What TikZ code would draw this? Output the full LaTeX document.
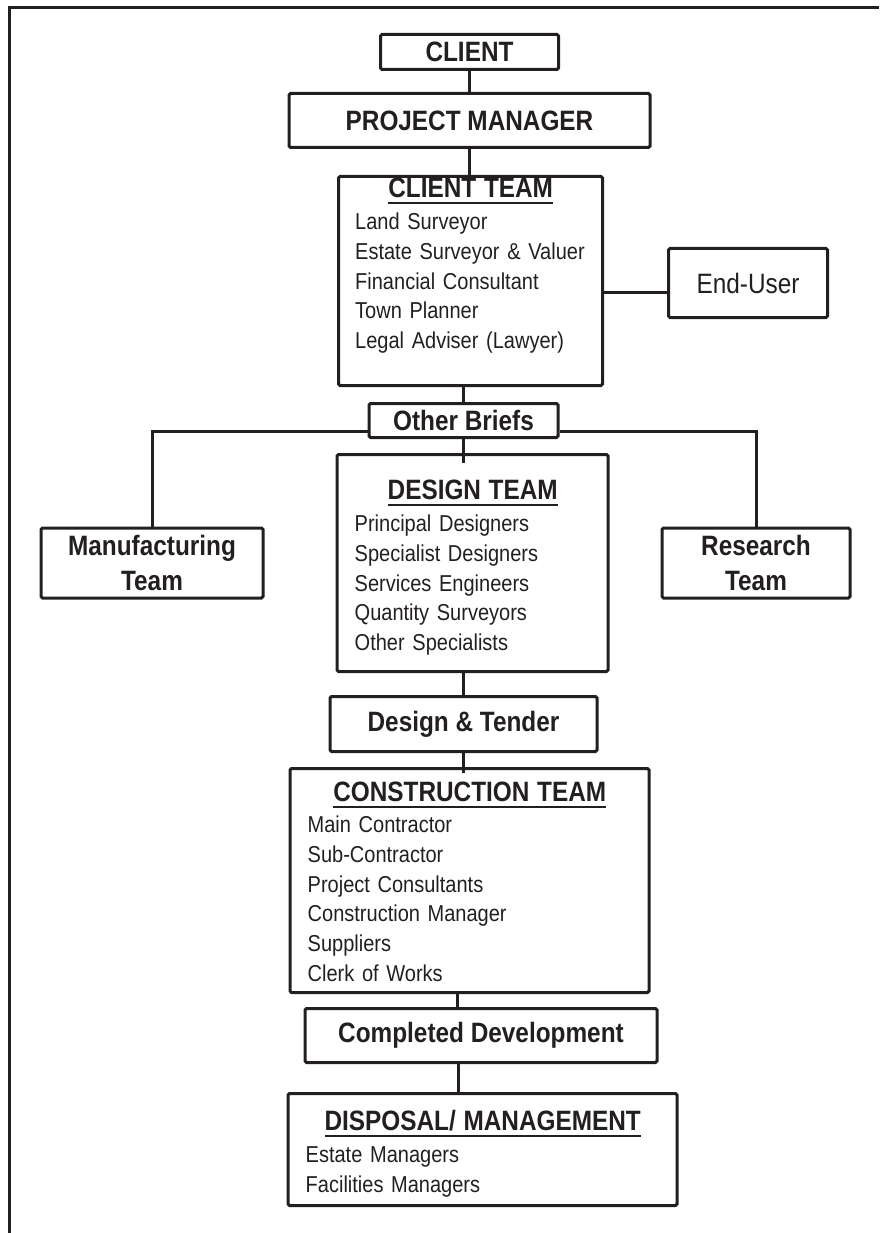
\documentclass[tikz,border=0pt]{standalone}
\usepackage{fontspec}
\setmainfont{Liberation Sans}[FakeStretch=0.87]
\usepackage{xcolor}
\usetikzlibrary{positioning}
\definecolor{ink}{RGB}{35,31,32}
\newcommand\hdfont{\fontsize{28}{35}\selectfont\bfseries}
\newcommand\itemfont{\fontsize{23}{29.7}\selectfont}
\newcommand\teamhead[1]{\makebox[\linewidth]{\setbox0\hbox{\hdfont #1}\rlap{\vrule height -4pt depth 6pt width \wd0}\box0}}

\begin{document}
\begin{tikzpicture}[x=1pt, y=-1pt, color=ink,
  box/.style={draw, line width=3pt, rounded corners=1.5pt, inner sep=0pt,
    align=center, font=\hdfont},
  members/.style={inner sep=0pt, text width=#1, align=left, font=\itemfont},
  link/.style={line width=3pt},
]
\useasboundingbox (0,0) rectangle (879,1233);
\draw[link] (9,1233) -- (9,7.3) -- (879,7.3);
\node[box, minimum width=178pt, minimum height=35pt] (client) at (469.5,52) {CLIENT};
\node[box, minimum width=361pt, minimum height=54pt, below=21pt of client] (pm) {PROJECT MANAGER};
\node[box, minimum width=264pt, minimum height=209pt, below=26pt of pm, xshift=1pt] (ct) {};
\node[members=231pt, below right=3pt and 18pt of ct.north west] (ctm) {\teamhead{CLIENT TEAM}\\[2.3pt]
  Land Surveyor\\ Estate Surveyor \& Valuer\\ Financial Consultant\\ Town Planner\\ Legal Adviser (Lawyer)};
\node[box, font=\fontsize{28}{35}\selectfont, minimum width=159pt, minimum height=69pt,
  right=63pt of ct, yshift=-2pt] (eu) {End-User};
\node[box, minimum width=189pt, minimum height=34pt, below=15pt of ct, xshift=-7pt] (ob) {Other Briefs};
\node[box, minimum width=271pt, minimum height=217pt, below=14pt of ob, xshift=9pt] (dt) {};
\node[members=236pt, below right=27pt and 19pt of dt.north west] (dtm) {\teamhead{DESIGN TEAM}\\[2.3pt]
  Principal Designers\\ Specialist Designers\\ Services Engineers\\ Quantity Surveyors\\ Other Specialists};
\node[box, minimum width=222pt, minimum height=70pt, left=71pt of dt] (mt) {Manufacturing\\Team};
\node[box, minimum width=188pt, minimum height=70pt, right=51pt of dt] (rt) {Research\\Team};
\node[box, minimum width=267pt, minimum height=55pt, below=22pt of dt, xshift=-9pt] (dtd) {Design \& Tender};
\node[box, minimum width=359pt, minimum height=224pt, below=14pt of dtd, xshift=6pt] (cst) {};
\node[members=324pt, below right=15pt and 19pt of cst.north west] (cstm) {\teamhead{CONSTRUCTION TEAM}\\[1.3pt]
  Main Contractor\\ Sub-Contractor\\ Project Consultants\\ Construction Manager\\ Suppliers\\ Clerk of Works};
\node[box, minimum width=352pt, minimum height=54pt, below=13pt of cst, xshift=11.5pt] (cd) {Completed Development};
\node[box, minimum width=389pt, minimum height=112pt, below=28pt of cd, xshift=1.5pt] (dm) {};
\node[members=354pt, below right=18pt and 19pt of dm.north west] (dmm) {\teamhead{DISPOSAL/ MANAGEMENT}\\[2.3pt]
  Estate Managers\\ Facilities Managers};
\draw[link] (client.south) -- (client.south |- pm.north);
\draw[link] (pm.south) -- (pm.south |- ct.north);
\draw[link] ([yshift=-9.5pt]eu.west) -- ([yshift=-9.5pt]eu.west -| ct.east);
\draw[link] (ob.north) -- (ob.north |- ct.south);
\draw[link] ([yshift=-11pt]ob.west) -| (mt.north);
\draw[link] ([yshift=-11pt]ob.east) -| (rt.north);
\draw[link] (ob.south) -- ([yshift=-10pt]ob.south |- dt.north);
\draw[link] (dtd.north) -- (dtd.north |- dt.south);
\draw[link] (dtd.south) -- ([yshift=-6pt]dtd.south |- cst.north);
\draw[link] ([xshift=-12pt]cst.south) -- ([xshift=-12pt]cst.south |- cd.north);
\draw[link] ([xshift=-22.5pt]cd.south) -- ([xshift=-22.5pt]cd.south |- dm.north);
\end{tikzpicture}
\end{document}
